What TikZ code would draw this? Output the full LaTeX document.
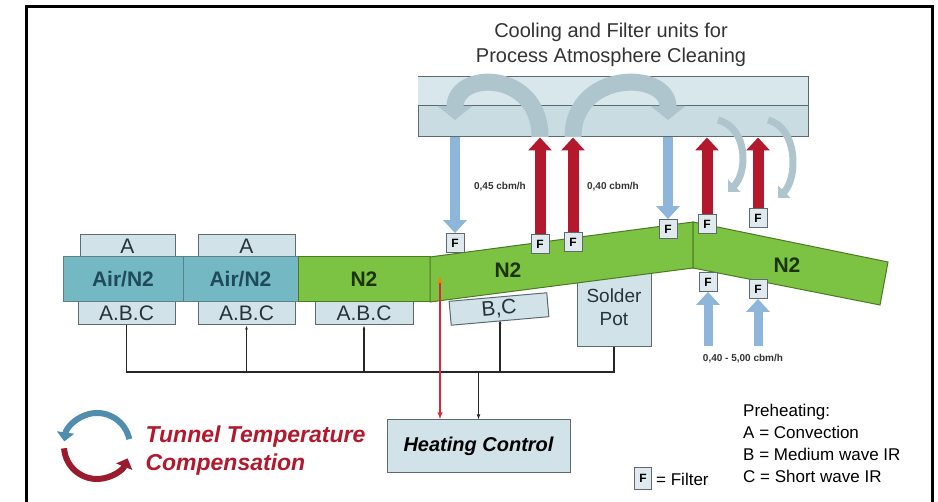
\documentclass[tikz,border=0pt]{standalone}
\usepackage{fontspec}
\setsansfont{Liberation Sans}
\usepackage{xcolor}
\usepackage{tikz}
\usetikzlibrary{arrows.meta,positioning}
\definecolor{airteal}{HTML}{74B8C4}
\definecolor{airtext}{HTML}{1F4A58}
\definecolor{zoneline}{HTML}{5E8088}
\definecolor{n2green}{HTML}{7CC243}
\definecolor{n2line}{HTML}{4C7A22}
\definecolor{n2text}{HTML}{1C3308}
\definecolor{boxfill}{HTML}{D2E2E9}
\definecolor{boxline}{HTML}{5D6B70}
\definecolor{boxtext}{HTML}{26343A}
\definecolor{filterfill}{HTML}{DFE9EE}
\definecolor{coolerfill}{HTML}{C8DCE2}
\definecolor{coolerband}{HTML}{D8E7EB}
\definecolor{coolblue}{HTML}{8DB6DA}
\definecolor{hotred}{HTML}{B3182C}
\definecolor{loopgray}{HTML}{AFC5CE}
\definecolor{probered}{HTML}{D8283A}
\definecolor{titlegray}{HTML}{333333}
\definecolor{loopblue}{HTML}{4F8EAF}
\definecolor{loopred}{HTML}{9B1B2E}
\newcommand\fsz[2]{\fontsize{#1}{#2}\selectfont}
\tikzset{
  zonebox/.style={
    rectangle,
    draw=zoneline,
    line width=1pt,
    minimum height=45pt,
    inner sep=0pt,
    font=\sffamily\bfseries\fsz{21}{24}
  },
  airzone/.style={zonebox, fill=airteal, text=airtext},
  n2zone/.style={zonebox, fill=n2green, draw=n2line, text=n2text},
  heater/.style={
    rectangle,
    draw=boxline,
    fill=boxfill,
    line width=1pt,
    minimum height=22pt,
    inner sep=0pt,
    text=boxtext,
    font=\sffamily\fsz{21}{24}
  },
  filterbox/.style={
    rectangle,
    draw=boxline,
    fill=filterfill,
    line width=0.8pt,
    minimum width=18pt,
    minimum height=19pt,
    inner sep=0pt,
    font=\sffamily\bfseries\fsz{12}{14}
  },
  ctrlbox/.style={heater, minimum width=183pt, minimum height=53pt, font=\sffamily\bfseries\itshape\fsz{20}{24}, text=black},
  flowlabel/.style={font=\sffamily\bfseries\fsz{10}{12}, text=black!80},
  coolflow/.style={line width=10pt, draw=coolblue, -{Triangle[length=13pt,width=23pt]}},
  hotflow/.style={line width=11pt, draw=hotred, -{Triangle[length=13pt,width=23pt]}},
  loopflow/.style={line width=17pt, draw=loopgray, -{Triangle[length=14pt,width=34pt]}},
  smallloop/.style={line width=7pt, draw=loopgray, -{Triangle[length=9pt,width=17pt]}},
  wireline/.style={line width=1.4pt, draw=black!85},
  probeline/.style={line width=1.6pt, draw=probered, {Latex[length=7pt]}-{Latex[length=7pt,color=orange]}}
}
\begin{document}
\begin{tikzpicture}[x=1pt, y=-1pt]
\useasboundingbox (0,0) rectangle (938,502);
\draw[line width=3pt] (26,502) -- (26,7) -- (932,7) -- (932,502);

% cooling and filter units
\node[font=\sffamily\fsz{20}{25}, text=titlegray, align=center] (title) at (611,45) {Cooling and Filter units for\\Process Atmosphere Cleaning};
\node[rectangle, draw=boxline, fill=coolerfill, line width=1pt, minimum width=390pt, minimum height=60pt, inner sep=0pt] (cool) at (613,107) {};
\fill[coolerband] ([shift={(0.5,0.5)}]cool.north west) rectangle ([xshift=-0.5pt]cool.east |- 0,105);
\draw[boxline, line width=0.8pt] (cool.west |- 0,105) -- (cool.east |- 0,105);
\draw[loopflow] (540,137) .. controls (540,70) and (455,70) .. (455,120);
\draw[loopflow] (573,137) .. controls (573,70) and (668,70) .. (668,120);
\draw[smallloop] (718,120) .. controls (748,128) and (748,172) .. (728,192);
\draw[smallloop] (768,120) .. controls (798,128) and (798,178) .. (778,198);

% heaters behind the tunnel
\node[heater, minimum width=95pt] (a1) at (127.5,246) {A};
\node[heater, minimum width=97pt] (a2) at (246.5,246) {A};
\node[heater, minimum width=97pt, minimum height=23pt] (abc1) at (126.5,313.5) {A.B.C};
\node[heater, minimum width=97pt, minimum height=23pt] (abc2) at (246.5,313.5) {A.B.C};
\node[heater, minimum width=98pt, minimum height=23pt] (abc3) at (364,313.5) {A.B.C};
\node[heater, minimum width=98pt, minimum height=24pt, rotate=5] (bc) at (499,309) {B,C};
\node[heater, minimum width=74pt, minimum height=80pt, align=center, font=\sffamily\fsz{19}{23}] (pot) at (614,307) {Solder\\Pot};

% tunnel
\node[airzone, minimum width=120pt] (air1) at (123,279.5) {Air/N2};
\node[airzone, minimum width=115pt] (air2) at (240.5,279.5) {Air/N2};
\node[n2zone, minimum width=132pt] (n2a) at (364,279.5) {N2};
\draw[fill=n2green, draw=n2line, line width=1pt] (430,257) -- (693,222) -- (693,268) -- (430,302) -- cycle;
\draw[fill=n2green, draw=n2line, line width=1pt] (693,222) -- (888,262) -- (880,305) -- (693,268) -- cycle;
\node[font=\sffamily\bfseries\fsz{21}{24}, text=n2text] (n2b) at (508,270) {N2};
\node[font=\sffamily\bfseries\fsz{21}{24}, text=n2text] (n2c) at (787,265) {N2};

% filters
\node[filterbox] (f1) at (455,243) {F};
\node[filterbox] (f2) at (540,244) {F};
\node[filterbox] (f3) at (573,242) {F};
\node[filterbox] (f4) at (668,229) {F};
\node[filterbox] (f5) at (707,224) {F};
\node[filterbox] (f6) at (758,218) {F};
\node[filterbox] (f7) at (708,282) {F};
\node[filterbox] (f8) at (758,289) {F};

% gas flows
\draw[coolflow] (f1 |- cool.south) -- (f1.north);
\draw[coolflow] (f4 |- cool.south) -- (f4.north);
\draw[hotflow] (f2.north) -- (f2 |- cool.south);
\draw[hotflow] (f3.north) -- (f3 |- cool.south);
\draw[hotflow] (f5.north) -- (f5 |- cool.south);
\draw[hotflow] (f6.north) -- (f6 |- cool.south);
\coordinate (in7) at (708,346);
\coordinate (in8) at (758,346);
\draw[coolflow, line width=9pt] (in7) -- (f7.south);
\draw[coolflow, line width=9pt] (in8) -- (f8.south);
\node[flowlabel] (q1) at (500,187) {0,45 cbm/h};
\node[flowlabel] (q2) at (613,187) {0,40 cbm/h};
\node[flowlabel] (q3) at (743,359) {0,40 - 5,00 cbm/h};

% heating control
\node[ctrlbox] (hc) at (478.5,446.5) {Heating Control};
\coordinate (busL) at (125,372);
\coordinate (probe) at (440,276);
\draw[wireline] (abc1.south) -- (abc1.south |- busL) -- (pot.south |- busL) -- (pot.south);
\draw[wireline, {Latex[length=4pt]}-] (abc2.south) -- (abc2.south |- busL);
\draw[wireline, {Latex[length=4pt]}-] (abc3.south) -- (abc3.south |- busL);
\draw[wireline, {Latex[length=4pt]}-] (bc.south |- 0,320) -- (bc.south |- busL);
\draw[wireline, -{Latex[length=5pt]}] (hc.north |- busL) -- (hc.north);
\draw[probeline] (hc.north -| probe) -- (probe);

% temperature compensation
\draw[line width=6pt, loopblue, -{Triangle[length=9pt,width=17pt]}] (97,446) ++(-12:33) arc[start angle=-12, end angle=-172, radius=33];
\draw[line width=6pt, loopred, -{Triangle[length=9pt,width=17pt]}] (97,446) ++(176:33) arc[start angle=176, end angle=22, radius=33];
\node[font=\sffamily\bfseries\itshape\fsz{23}{28}, text=hotred, align=left, anchor=west] (ttc) at (142,451) {Tunnel Temperature\\Compensation};

% legend
\node[font=\sffamily\fsz{17}{22}, align=left, anchor=north west, inner sep=0pt] (legend) at (743,404) {Preheating:\\A = Convection\\B = Medium wave IR\\C = Short wave IR};
\node[filterbox, minimum width=17pt, minimum height=22pt] (fkey) at (643,478) {F};
\node[font=\sffamily\fsz{17}{22}, anchor=west, inner sep=0pt] (fkeytxt) at (656,479) {= Filter};
\end{tikzpicture}
\end{document}
